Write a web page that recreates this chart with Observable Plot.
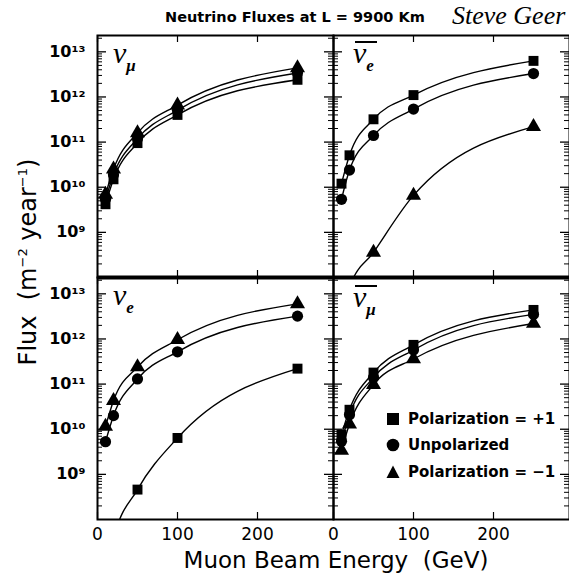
<!DOCTYPE html>
<html><head><meta charset="utf-8">
<script src="https://cdn.jsdelivr.net/npm/d3@7"></script>
<script src="https://cdn.jsdelivr.net/npm/@observablehq/plot@0.6"></script>
<style>
body{margin:0;background:#fff;}
#wrap{position:relative;width:569px;height:574px;overflow:hidden;font-family:"DejaVu Sans",sans-serif;color:#000;}
.ov{position:absolute;white-space:nowrap;color:#000;line-height:1;}
.nu{font-family:"Liberation Serif",serif;font-style:italic;font-size:30px;}
.sub{font-family:"Liberation Serif",serif;font-style:italic;font-weight:bold;font-size:17px;position:relative;top:8px;}
.bar{position:absolute;height:2px;background:#000;}
</style></head><body>
<div id="wrap"></div>
<script>
// Beam energies (GeV)
const energies = [10, 20, 50, 100, 250];
const polarizations = ["+1", "0", "-1"];
const polarizationLabels = ["Polarization = +1", "Unpolarized", "Polarization = \u22121"];

// nu_mu (top-left)
const numuPlus  = [4.2e9, 1.5e10, 9.5e10, 4.0e11, 2.4e12];
const numuUnpol = [5.4e9, 1.9e10, 1.2e11, 5.1e11, 3.4e12];
const numuMinus = [6.9e9, 2.5e10, 1.6e11, 6.6e11, 4.4e12];
// anti nu_e (top-right)
const anuePlus  = [1.2e10, 5.1e10, 3.2e11, 1.1e12, 6.3e12];
const anueUnpol = [5.4e9, 2.4e10, 1.4e11, 5.4e11, 3.3e12];
const anueMinus = [1.0e7, 6.0e7, 3.6e8, 6.6e9, 2.2e11];
// nu_e (bottom-left)
const nuePlus   = [5.0e6, 3.6e7, 4.6e8, 6.4e9, 2.2e11];
const nueUnpol  = [5.3e9, 2.0e10, 1.3e11, 5.2e11, 3.2e12];
const nueMinus  = [1.15e10, 4.3e10, 2.4e11, 9.6e11, 6.0e12];
// anti nu_mu (bottom-right)
const anumuPlus  = [7.6e9, 2.7e10, 1.8e11, 7.4e11, 4.4e12];
const anumuUnpol = [5.4e9, 2.1e10, 1.4e11, 5.7e11, 3.5e12];
const anumuMinus = [3.4e9, 1.3e10, 9.7e10, 3.6e11, 2.2e12];

const xTicks = [0, 100, 200];
const yTicks = [1e9, 1e10, 1e11, 1e12, 1e13];
const yMinor = [];
for (let k = 8; k <= 13; k++) for (let m = 2; m <= 9; m++) { const v = m * 10 ** k; if (v <= 2.3e13) yMinor.push(v); }

const panels = [
  {col: "L", row: "T", series: [numuPlus, numuUnpol, numuMinus]},
  {col: "R", row: "T", series: [anuePlus, anueUnpol, anueMinus]},
  {col: "L", row: "B", series: [nuePlus, nueUnpol, nueMinus]},
  {col: "R", row: "B", series: [anumuPlus, anumuUnpol, anumuMinus]}
];
const rows = [];
for (const p of panels) p.series.forEach((vals, i) => vals.forEach((v, j) => rows.push({col: p.col, row: p.row, pol: polarizations[i], E: energies[j], flux: v})));

const supMap = {"0":"\u2070","1":"\u00b9","2":"\u00b2","3":"\u00b3","4":"\u2074","5":"\u2075","6":"\u2076","7":"\u2077","8":"\u2078","9":"\u2079"};
const fmt = d => "10" + String(Math.round(Math.log10(d))).split("").map(c => supMap[c]).join("");

const W = 236, H = 242;
const chart = Plot.plot({
  width: 569, height: 574,
  marginLeft: 97, marginRight: 0, marginTop: 35, marginBottom: 55,
  fx: {domain: ["L", "R"], padding: 0, axis: null},
  fy: {domain: ["T", "B"], padding: 0, axis: null},
  x: {domain: [0, 295]},
  y: {type: "log", domain: [1e8, 2.3e13]},
  symbol: {domain: polarizations, range: ["square", "circle", "triangle"]},
  style: {fontFamily: "DejaVu Sans", color: "#000", background: "#fff"},
  marks: [
    Plot.line(rows, {x: "E", y: "flux", z: "pol", fx: "col", fy: "row", curve: "monotone-x", stroke: "#000", strokeWidth: 1.4, clip: true}),
    Plot.dot(rows, {x: "E", y: "flux", symbol: "pol", fx: "col", fy: "row", fill: "#000", stroke: "none", r: 5.6, clip: true}),
    Plot.tickY(yTicks, {y: d => d, insetRight: W - 9, strokeWidth: 1.3}),
    Plot.tickY(yTicks, {y: d => d, insetLeft: W - 9, strokeWidth: 1.3}),
    Plot.tickY(yMinor, {y: d => d, insetRight: W - 5}),
    Plot.tickY(yMinor, {y: d => d, insetLeft: W - 5}),
    Plot.tickX(xTicks, {x: d => d, insetBottom: H - 7, strokeWidth: 1.2}),
    Plot.tickX(xTicks, {x: d => d, insetTop: H - 7, strokeWidth: 1.2}),
    Plot.frame({stroke: "#000", strokeWidth: 2}),
    Plot.ruleY([2.3e13], {y: d => d, fy: ["B"], stroke: "#000", strokeWidth: 4}),
    Plot.axisY({ticks: yTicks, tickSize: 0, tickPadding: 12, tickFormat: fmt, fontSize: 16, fontWeight: "bold", anchor: "left", label: null}),
    Plot.axisX({ticks: xTicks, tickSize: 0, tickPadding: 8, fontSize: 17, anchor: "bottom", label: null})
  ]
});

const wrap = document.getElementById("wrap");
wrap.appendChild(chart);
chart.style.position = "absolute"; chart.style.left = "0px"; chart.style.top = "0px";

function ov(html, left, top, style, cls) {
  const d = document.createElement("div");
  d.className = cls || "ov"; d.innerHTML = html;
  d.style.left = left + "px"; d.style.top = top + "px";
  if (style) Object.assign(d.style, style);
  wrap.appendChild(d); return d;
}
ov("Neutrino Fluxes at L = 9900 Km", 165, 10, {fontSize: "14.5px", fontWeight: "bold"});
ov("Steve Geer", 452, 3, {fontFamily: "Liberation Serif", fontStyle: "italic", fontSize: "26px"});

// panel labels
ov('<span class="nu">\u03bd</span><span class="sub">\u03bc</span>', 113, 38);
ov('<span class="nu">\u03bd</span><span class="sub">e</span>', 353, 38);
ov('', 355, 41, {width: "22px"}, "bar");
ov('<span class="nu">\u03bd</span><span class="sub">e</span>', 113, 280);
ov('<span class="nu">\u03bd</span><span class="sub">\u03bc</span>', 353, 282);
ov('', 355, 285, {width: "22px"}, "bar");

// legend
const sym = [
  '<svg width="14" height="14"><rect x="1" y="1" width="12" height="12" fill="#000"/></svg>',
  '<svg width="14" height="14"><circle cx="7" cy="7" r="6.3" fill="#000"/></svg>',
  '<svg width="14" height="14"><path d="M7 0.5 L13.5 13 L0.5 13 Z" fill="#000"/></svg>'
];
const legY = [412, 438, 465];
polarizationLabels.forEach((t, i) => {
  ov(sym[i], 386, legY[i]);
  ov(t, 408, legY[i], {fontSize: "15px", fontWeight: "bold"});
});

// axis titles
ov("Muon Beam Energy&nbsp; (GeV)", 336, 549, {fontSize: "23px", transform: "translateX(-50%)"});
ov('Flux&nbsp; (m<sup style="font-size:13px">\u22122</sup> year<sup style="font-size:13px">\u22121</sup>)', 28, 262, {fontSize: "24px", transform: "translate(-50%,-50%) rotate(-90deg)"});
</script>
</body></html>
